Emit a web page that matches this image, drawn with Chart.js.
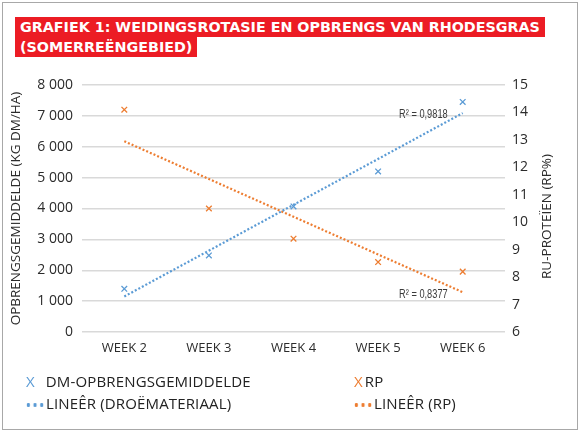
<!DOCTYPE html>
<html>
<head>
<meta charset="utf-8">
<script src="https://cdn.jsdelivr.net/npm/chart.js@4"></script>
<style>
  html, body { margin: 0; padding: 0; background: #fff; }
  #wrap { position: relative; width: 581px; height: 433px; overflow: hidden; }
  #frame { position: absolute; left: 2px; top: 2px; width: 574px; height: 426px; border: 1.5px solid #a8a8a8; box-sizing: content-box; pointer-events: none; }
  #title { position: absolute; left: 15px; top: 17px; width: 560px; font-family: "DejaVu Sans", sans-serif; font-weight: bold; font-size: 14.3px; color: #fff; }
  #title div { height: 20px; }
  #title span { display: inline-block; background: #ec1c24; height: 20px; line-height: 20px; padding: 0 5px 0 5px; white-space: nowrap; }
  canvas { position: absolute; left: 0; top: 0; }
  .leg { position: absolute; font-family: "Open Sans", "Noto Sans", sans-serif; font-size: 15px; letter-spacing: 0.15px; color: #222; white-space: nowrap; line-height: 18px; }
  .mk { display: inline-block; }
</style>
</head>
<body>
<div id="wrap">
  <div id="title"><div><span>GRAFIEK 1: WEIDINGSROTASIE EN OPBRENGS VAN RHODESGRAS</span></div><div><span>(SOMERREËNGEBIED)</span></div></div>
  <canvas id="c" width="581" height="433"></canvas>
  <div id="legend"></div>
  <div id="frame"></div>
</div>
<script>
const weeks = ['WEEK 2', 'WEEK 3', 'WEEK 4', 'WEEK 5', 'WEEK 6'];
const dmYield = [1400, 2480, 4065, 5200, 7450];
const rpPercent = [14.1, 10.5, 9.4, 8.55, 8.2];
const dmTrend = [1150, null, null, null, 7090];
const rpTrend = [12.95, null, null, null, 7.45];
const dmR2 = 'R² = 0,9818';
const rpR2 = 'R² = 0,8377';
const leftTitle = 'OPBRENGSGEMIDDELDE (KG DM/HA)';
const rightTitle = 'RU-PROTEÏEN (RP%)';
const legendLabels = ['DM-OPBRENGSGEMIDDELDE', 'RP', 'LINEÊR (DROËMATERIAAL)', 'LINEÊR (RP)'];

const BLUE = '#5b9bd5';
const ORANGE = '#ed7d31';
const TICK = '#2b2b2b';
const GRID = '#d9d9d9';
const FAMILY = '"Open Sans", "Noto Sans", sans-serif';

const extras = {
  id: 'extras',
  afterDraw(chart) {
    const ctx = chart.ctx;
    const x = chart.scales.x, yl = chart.scales.y, yr = chart.scales.y1;
    const area = chart.chartArea;
    ctx.save();
    // right axis title, reading bottom to top
    ctx.fillStyle = TICK;
    ctx.font = '13.5px ' + FAMILY;
    ctx.textAlign = 'center';
    ctx.textBaseline = 'middle';
    ctx.translate(547, (area.top + area.bottom) / 2 + 8);
    ctx.rotate(-Math.PI / 2);
    ctx.fillText(rightTitle, 0, 0);
    ctx.restore();
    // R² labels near the trend ends (condensed look)
    const xe = x.getPixelForValue(weeks.length - 1) - 15;
    const drawR2 = (txt, y) => {
      ctx.save();
      ctx.fillStyle = '#3a3a3a';
      ctx.font = '12.5px "Liberation Sans", sans-serif';
      ctx.textAlign = 'right';
      ctx.textBaseline = 'middle';
      ctx.translate(xe, y);
      ctx.scale(0.74, 1);
      ctx.fillText(txt, 0, 0);
      ctx.restore();
    };
    drawR2(dmR2, yl.getPixelForValue(dmTrend[4]) + 1);
    drawR2(rpR2, yr.getPixelForValue(rpTrend[4]) + 2);
  }
};

new Chart(document.getElementById('c'), {
  type: 'line',
  data: {
    labels: weeks,
    datasets: [
      { label: legendLabels[0], data: dmYield, yAxisID: 'y', showLine: false,
        pointStyle: 'crossRot', pointRadius: 4, pointBorderWidth: 1.3,
        borderColor: BLUE, backgroundColor: BLUE },
      { label: legendLabels[1], data: rpPercent, yAxisID: 'y1', showLine: false,
        pointStyle: 'crossRot', pointRadius: 4, pointBorderWidth: 1.3,
        borderColor: ORANGE, backgroundColor: ORANGE },
      { label: legendLabels[2], data: dmTrend, yAxisID: 'y', spanGaps: true,
        pointRadius: 0, borderWidth: 2.2, borderDash: [2, 2],
        borderColor: BLUE, backgroundColor: BLUE },
      { label: legendLabels[3], data: rpTrend, yAxisID: 'y1', spanGaps: true,
        pointRadius: 0, borderWidth: 2.2, borderDash: [2, 2],
        borderColor: ORANGE, backgroundColor: ORANGE }
    ]
  },
  options: {
    responsive: false,
    animation: false,
    layout: { padding: { left: 0, right: 0, top: 85, bottom: 81 } },
    plugins: { legend: { display: false }, tooltip: { enabled: false } },
    scales: {
      x: {
        offset: true,
        grid: { display: false, drawTicks: false },
        border: { display: false },
        ticks: { color: TICK, font: { family: FAMILY, size: 13 }, padding: 8 },
        afterFit(s) { s.height = 20; }
      },
      y: {
        position: 'left', min: 0, max: 8000,
        grid: { color: GRID, lineWidth: 1.5, drawTicks: false },
        border: { display: false },
        ticks: { stepSize: 1000, color: TICK, font: { family: FAMILY, size: 14 }, padding: 9,
          callback: v => String(v).replace(/\B(?=(\d{3})+(?!\d))/g, ' ') },
        title: { display: true, text: leftTitle, color: TICK,
          font: { family: FAMILY, size: 13.5 }, padding: { top: 8, bottom: 0 } },
        afterFit(s) { s.width = 82; }
      },
      y1: {
        position: 'right', min: 6, max: 15,
        grid: { display: false, drawTicks: false },
        border: { display: false },
        ticks: { stepSize: 1, color: TICK, font: { family: FAMILY, size: 14 }, padding: 7 },
        afterFit(s) { s.width = 76; }
      }
    }
  },
  plugins: [extras]
});

// legend (HTML, built from the label list)
const legend = document.getElementById('legend');
const items = [
  { text: legendLabels[0], color: BLUE, kind: 'x', left: 26, top: 372, gap: 11 },
  { text: legendLabels[1], color: ORANGE, kind: 'x', left: 354, top: 372, gap: 2 },
  { text: legendLabels[2], color: BLUE, kind: 'dots', left: 25, top: 394, gap: 1 },
  { text: legendLabels[3], color: ORANGE, kind: 'dots', left: 353, top: 394, gap: 1 }
];
items.forEach(it => {
  const d = document.createElement('div');
  d.className = 'leg';
  d.style.left = it.left + 'px';
  d.style.top = it.top + 'px';
  const m = document.createElement('span');
  m.className = 'mk';
  m.style.color = it.color;
  m.style.marginRight = it.gap + 'px';
  if (it.kind === 'x') {
    m.textContent = 'X';
  } else {
    m.style.width = '20px';
    m.style.height = '4px';
    m.style.verticalAlign = 'middle';
    m.style.background = 'radial-gradient(circle, ' + it.color + ' 1.7px, transparent 2px) 0 0 / 6.7px 4px repeat-x';
  }
  d.appendChild(m);
  d.appendChild(document.createTextNode(it.text));
  legend.appendChild(d);
});
</script>
</body>
</html>
